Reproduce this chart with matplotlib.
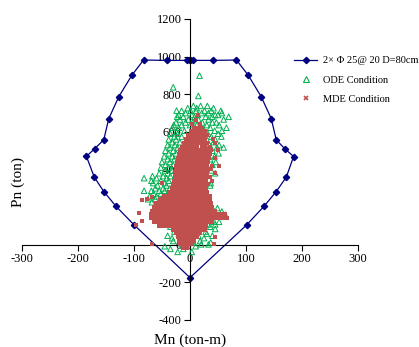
import matplotlib
matplotlib.use("Agg")
import matplotlib.pyplot as plt
from matplotlib.lines import Line2D

plt.rcParams['font.family'] = ['Liberation Serif', 'DejaVu Serif']

# Interaction diagram (M, P)
diag_M = [0, -5, -41, -83, -104, -127, -145, -154, -170, -185, -171, -154, -132, -100, 0,
          101, 133, 154, 172, 185, 169, 154, 145, 127, 104, 83, 41, 6, 0]
diag_P = [980, 980, 980, 982, 900, 788, 671, 558, 511, 470, 360, 283, 204, 106, -175,
          105, 207, 283, 360, 469, 511, 558, 671, 788, 901, 982, 980, 980, 980]

# ODE condition points: rows of (P, [M values])
ode_rows = [
    (899, [17]), (837, [-30]), (791, [15]), (713, [-24]), (681, [-23]), (637, [-29]), (602, [-24]),
    (738, [6, 19, 31]), (726, [-4, 12, 42]), (712, [-15, 1, 11, 26, 38, 55]),
    (700, [-8, 21, 33, 57]), (690, [-20, 3, 14, 45, 50]), (680, [-12, 8, 28, 40, 69]),
    (666, [-18, -3, 15, 33, 60]), (650, [-25, -8, 5, 22, 40, 47]), (636, [-15, 0, 12, 30, 52]),
    (622, [-31, -20, 18, 36, 65]), (606, [-10, 25, 44, 57]), (590, [-35, -22, 32, 50]),
    (575, [-28, -15, 38, 56]), (560, [-38, -25, 30, 45]), (545, [-32, -18, 42]),
    (530, [-40, -27, 35, 52]), (517, [-36, -22, 48, 60]), (500, [-44, -30, 40]),
    (486, [-38, -25, 51]), (470, [-46, -32, 44]), (455, [-40, -28, 36]),
    (440, [-50, -36, 46]), (425, [-44, -30, 40]), (410, [-52, -38]), (395, [-45, -32, 38]),
    (380, [-55, -40, 45]), (365, [-67, -48, -35, 28]), (354, [-82, -60, -42, 16]),
    (340, [-69, -52, -38, 28]), (328, [-66, -45, 37]), (315, [-58, -42, 36]),
    (300, [-62, -48, -36]), (287, [-82, -69, -55, -45]), (272, [-65, -52, -40]),
    (257, [-72, -60, -48]), (242, [-75, -62]), (226, [-68]),
    (195, [49, 40]), (177, [57, 30]), (160, [63, 45]), (122, [52, 43]), (108, [45, 32]),
    (96, [36, 20, -35]), (84, [45, 12]), (70, [10, 28, -28]), (58, [30, -20]),
    (48, [40, 15, -40]), (35, [25, 5, -32]), (20, [-30, 18]), (12, [37, 5]), (2, [33, 20, -15]),
    (-8, [-45, -5, 10]), (-22, [-35, -12]), (-38, [-22, 3]),
]

# MDE condition points: rows of (P, [M values])
mde_rows = [
    (690, [15]), (663, [10]), (642, [4, 17]), (621, [8, 14, 22]), (603, [1, 7, 15, 20, 27]),
    (583, [-4, 3, 9, 16, 23, 30]), (562, [-8, -1, 6, 12, 19, 27, 41]),
    (542, [-11, -5, 2, 9, 16, 23, 31, 45]), (521, [-15, -8, -1, 6, 13, 21, 27, 35]),
    (501, [-18, -11, -4, 3, 10, 17, 24, 31, 38, 50]), (481, [-20, -13, -6, 1, 8, 15, 22, 29, 36]),
    (462, [-22, -15, -8, -1, 6, 13, 20, 27, 34, 45]), (441, [-23, -16, -9, -2, 5, 12, 19, 26, 33]),
    (421, [-25, -18, -11, -4, 3, 10, 17, 24, 31, 40, 52]), (401, [-25, -18, -11, -4, 3, 10, 17, 24, 31, 38]),
    (381, [-26, -19, -12, -5, 2, 9, 16, 23, 30, 44]), (361, [-27, -20, -13, -6, 1, 8, 15, 22, 29, 36]),
    (341, [-28, -21, -14, -7, 0, 7, 14, 21, 28, 40]), (321, [-30, -23, -16, -9, -2, 5, 12, 19, 26, 33]),
    (301, [-33, -27, -20, -13, -6, 1, 8, 15, 22, 29]), (281, [-38, -32, -26, -19, -12, -5, 2, 9, 16, 23, 30]),
    (261, [-46, -40, -34, -27, -20, -13, -6, 1, 8, 15, 22, 29, 36]),
    (241, [-54, -48, -41, -34, -27, -20, -13, -6, 1, 8, 15, 22, 29, 36]),
    (221, [-60, -53, -46, -39, -32, -25, -18, -11, -4, 3, 10, 17, 24, 31, 38]),
    (201, [-65, -58, -51, -44, -37, -30, -23, -16, -9, -2, 5, 12, 19, 26, 33, 40]),
    (181, [-68, -61, -54, -47, -40, -33, -26, -19, -12, -5, 2, 9, 16, 23, 30, 37, 44]),
    (161, [-70, -63, -56, -49, -42, -35, -28, -21, -14, -7, 0, 7, 14, 21, 28, 35, 42, 49, 56, 63]),
    (141, [-70, -63, -56, -49, -42, -35, -28, -21, -14, -7, 0, 7, 14, 21, 28, 35, 42, 49, 56, 63, 66]),
    (121, [-64, -57, -50, -44, -37, -30, -23, -16, -9, -2, 5, 12, 19, 26, 33, 40]),
    (101, [-55, -48, -41, -34, -27, -20, -13, -6, 1, 8, 15, 22, 29]),
    (81, [-30, -23, -16, -9, -2, 5, 12, 19, 26]), (61, [-25, -18, -11, -4, 3, 10, 17]),
    (41, [-22, -15, -8, -1, 6, 13, 45]), (21, [-20, -13, -6, 1, 8]), (3, [-18, -11, -4, 3, 42, -67]),
    (-18, [-12, -5]),
    (328, [-50]), (256, [-67]), (243, [-76]), (239, [-85]), (168, [-91]), (124, [-85]), (106, [-97]),
]

ode_M = [m for p, ms in ode_rows for m in ms]
ode_P = [p for p, ms in ode_rows for m in ms]
mde_M = [m for p, ms in mde_rows for m in ms]
mde_P = [p for p, ms in mde_rows for m in ms]

x_ticks = [-300, -200, -100, 0, 100, 200, 300]
y_ticks = [-400, -200, 0, 200, 400, 600, 800, 1000, 1200]

W, H = 419, 347
fig = plt.figure(figsize=(W / 100, H / 100), dpi=100)
ax = fig.add_axes([22 / W, 1 - 320 / H, 336 / W, 301 / H])

navy = '#000080'
green = '#00B050'
red = '#C0504D'

ax.plot(diag_M, diag_P, color=navy, lw=0.9, marker='D', ms=3.2, mfc=navy, mec=navy, zorder=2)
ax.scatter(ode_M, ode_P, marker='^', s=16, facecolors='none', edgecolors=green, linewidths=0.7, zorder=3)
ax.scatter(mde_M, mde_P, marker='s', s=7.5, color=red, linewidths=0, zorder=4)

ax.set_xlim(-300, 300)
ax.set_ylim(-400, 1200)
ax.spines['left'].set_position(('data', 0))
ax.spines['bottom'].set_position(('data', 0))
ax.spines['right'].set_visible(False)
ax.spines['top'].set_visible(False)
for s in ('left', 'bottom'):
    ax.spines[s].set_linewidth(0.8)
ax.set_xticks(x_ticks)
ax.set_yticks(y_ticks)
ax.set_xticklabels([str(v) for v in x_ticks])
ax.set_yticklabels([str(v) for v in y_ticks])
ax.tick_params(axis='both', direction='out', length=4, width=0.8, labelsize=9, pad=2)
ax.patch.set_alpha(0)

fig.text(190 / W, 1 - 340 / H, 'Mn (ton-m)', ha='center', va='center', fontsize=11)
fig.text(18 / W, 1 - 182 / H, 'Pn (ton)', ha='center', va='center', rotation=90, fontsize=11)

handles = [
    Line2D([], [], color=navy, lw=0.9, marker='D', ms=3.2, mfc=navy, mec=navy),
    Line2D([], [], ls='none', marker='^', ms=5, mfc='none', mec=green, mew=0.8),
    Line2D([], [], ls='none', marker='x', ms=3, color=red, mew=1.2),
]
labels = ['2× Φ 25@ 20 D=80cm', 'ODE Condition', 'MDE Condition']
fig.legend(handles, labels, loc='upper left', bbox_to_anchor=(290 / W, 1 - 52 / H),
           frameon=False, fontsize=7.5, handlelength=2.2, handletextpad=0.6, labelspacing=0.95,
           borderaxespad=0)

fig.savefig('out.png', dpi=100)
